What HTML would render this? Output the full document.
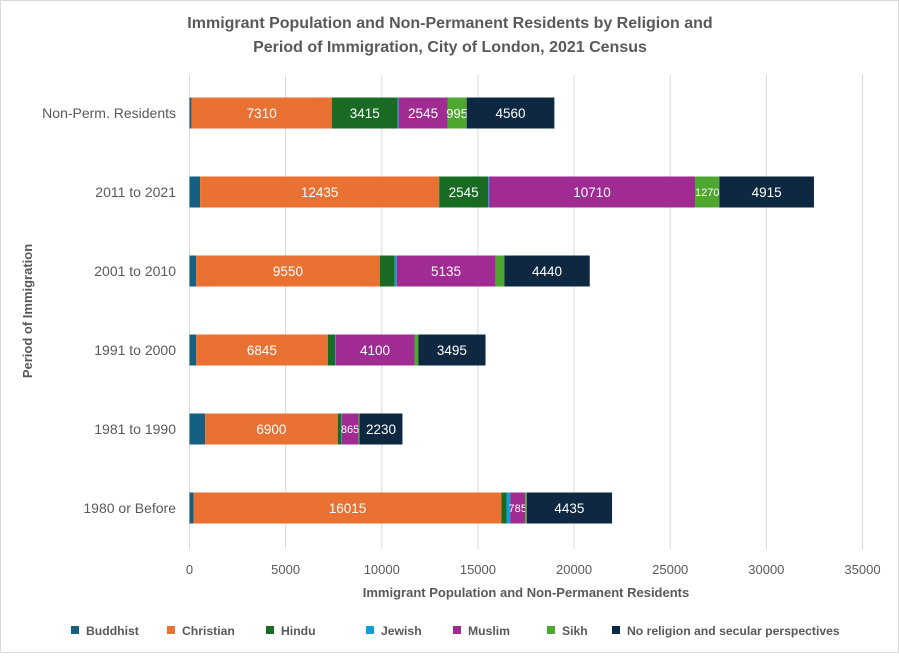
<!DOCTYPE html>
<html><head><meta charset="utf-8"><style>
body{margin:0;background:#fff;font-family:"Liberation Sans",sans-serif;}
#c{position:relative;width:899px;height:653px;box-sizing:border-box;border:1px solid #d9d9d9;}
svg text{font-family:"Liberation Sans",sans-serif;}
</style></head><body>
<div id="c">
<svg id="s" width="897" height="651" xmlns="http://www.w3.org/2000/svg">
<text x="449" y="27" text-anchor="middle" font-size="16" font-weight="bold" fill="#595959">Immigrant Population and Non-Permanent Residents by Religion and</text>
<text x="449" y="51" text-anchor="middle" font-size="16" font-weight="bold" fill="#595959">Period of Immigration, City of London, 2021 Census</text>
<text transform="translate(31,310) rotate(-90)" text-anchor="middle" font-size="13" font-weight="bold" fill="#595959">Period of Immigration</text>
<text x="525" y="596" text-anchor="middle" font-size="13" font-weight="bold" fill="#595959">Immigrant Population and Non-Permanent Residents</text>
<g id="grid"></g><g id="bars"></g><g id="legend"></g>
</svg></div>
<script>
const categories=["Non-Perm. Residents","2011 to 2021","2001 to 2010","1991 to 2000","1981 to 1990","1980 or Before"];
const seriesNames=["Buddhist","Christian","Hindu","Jewish","Muslim","Sikh","No religion and secular perspectives"];
const buddhist=[100,550,345,345,810,210];
const christian=[7310,12435,9550,6845,6900,16015];
const hindu=[3415,2545,780,380,190,260];
const jewish=[50,50,100,30,20,190];
const muslim=[2545,10710,5135,4100,865,785];
const sikh=[995,1270,465,200,60,80];
const noReligion=[4560,4915,4440,3495,2230,4435];
const xTicks=[0,5000,10000,15000,20000,25000,30000,35000];
const series=[buddhist,christian,hindu,jewish,muslim,sikh,noReligion];
const colors=["#156082","#E97132","#196B24","#0F9ED5","#A02B93","#4EA72E","#0E2841"];
const NS="http://www.w3.org/2000/svg";
const x0=188.5,x1=861.5,yTop=74,yBot=548;
const xs=v=>x0+(v/35000)*(x1-x0);
const band=(yBot-yTop)/categories.length;
const yc=i=>yTop+band*(i+0.5)-1.5;
function mk(t,a,p){const e=document.createElementNS(NS,t);for(const k in a)e.setAttribute(k,a[k]);p.appendChild(e);return e;}
const grid=document.getElementById('grid');
xTicks.forEach(t=>{
 const l=mk('line',{x1:xs(t),x2:xs(t),y1:yTop,y2:yBot,stroke:'#d9d9d9','stroke-width':1},grid);
 
 
 const tx=mk('text',{x:xs(t),y:573,'text-anchor':'middle','font-size':13,fill:'#595959'},grid);
 tx.textContent=t;
 
 
});
const bars=document.getElementById('bars');
categories.forEach((c,i)=>{
 const cl=mk('text',{x:175,y:yc(i)+5,'text-anchor':'end','font-size':14,fill:'#595959'},bars);
 cl.textContent=c;
 
 
 let acc=0;
 series.forEach((s,j)=>{
  const v=s[i];const a=xs(acc),b=xs(acc+v);
  const r=mk('rect',{x:a,y:yc(i)-15.5,width:b-a,height:31,fill:colors[j]},bars);
  
  
  if(j>0&&v>=785){
   const w=b-a;const fs=w<30?(v<1000&&w>18?13:11):13.5;
   const t=mk('text',{x:(a+b)/2,y:yc(i)+(fs>12?5:4),'text-anchor':'middle','font-size':fs,fill:'#fff'},bars);
   t.textContent=v;
   
   
  }
  acc+=v;
 });
});
const legend=document.getElementById('legend');
const lx=[70,166,265,365,452,546,611];
seriesNames.forEach((n,j)=>{
 const r=mk('rect',{x:lx[j],y:625,width:8,height:8,fill:colors[j]},legend);
 
 
 const t=mk('text',{x:lx[j]+15,y:634,'font-size':12.2,'font-weight':'bold',fill:'#595959'},legend);
 t.textContent=n;
 
 
});
</script>
</body></html>
